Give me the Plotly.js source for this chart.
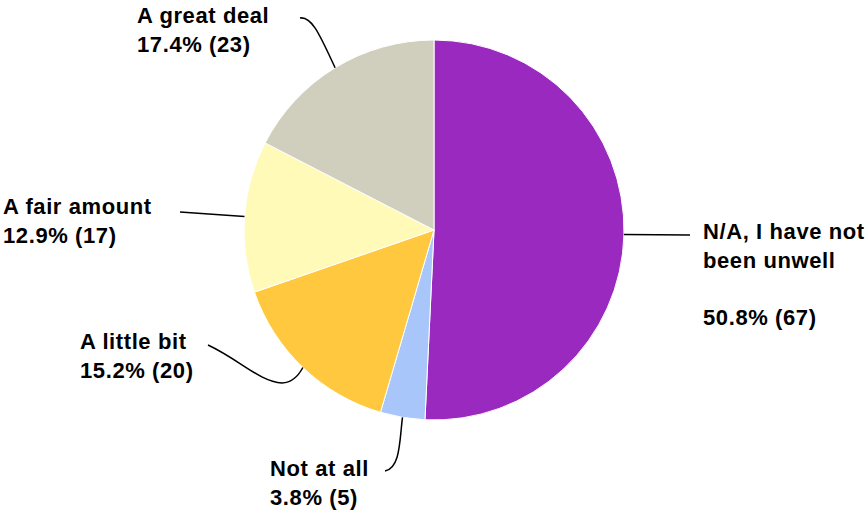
<!DOCTYPE html>
<html>
<head>
<meta charset="utf-8">
<script src="https://cdn.plot.ly/plotly-3.0.1.min.js"></script>
<style>
html,body{margin:0;padding:0;background:#fff;}
#chart{width:868px;height:513px;}
.annotation-text{letter-spacing:0.6px;}
</style>
</head>
<body>
<div id="chart"></div>
<script>
// Data
const categories = ["N/A, I have not been unwell", "Not at all", "A little bit", "A fair amount", "A great deal"];
const counts = [67, 5, 20, 17, 23];
const labelTexts = [
  "N/A, I have not<br>been unwell<br><br>50.8% (67)",
  "Not at all<br>3.8% (5)",
  "A little bit<br>15.2% (20)",
  "A fair amount<br>12.9% (17)",
  "A great deal<br>17.4% (23)"
];
const colors = ["#9A2ABF", "#A8C6FA", "#FFC83F", "#FFFAB8", "#D0CEBC"];

// Layout geometry (pixels)
const W = 868, H = 513;
const CX = 434, CY = 230, R = 190;
const px = x => x / W;
const py = y => 1 - y / H;

// Label placement (text box left/top, px) and leader-line end near label
const labelPos = [
  {x: 701, top: 217, lx: 690, ly: 235, curve: "line"},
  {x: 268, top: 454, lx: 385, ly: 471, curve: "notatall"},
  {x: 78,  top: 327, lx: 208, ly: 345, curve: "little"},
  {x: 1,   top: 192, lx: 180, ly: 212, curve: "line"},
  {x: 135, top: 1,   lx: 300, ly: 18,  curve: "great"}
];

const total = counts.reduce((a, b) => a + b, 0);
let cum = 0;
const shapes = [];
const annotations = [];
counts.forEach((v, i) => {
  const mid = (cum + v / 2) / total;
  cum += v;
  const ang = mid * 2 * Math.PI; // clockwise from top
  const ex = CX + R * Math.sin(ang);
  const ey = CY - R * Math.cos(ang);
  const p = labelPos[i];
  let path;
  const P = (x, y) => px(x) + "," + py(y);
  if (p.curve === "line") {
    path = "M" + P(ex, ey) + " L" + P(p.lx, p.ly);
  } else if (p.curve === "great") {
    path = "M" + P(p.lx, p.ly) + " C" + P(p.lx + 12, p.ly - 2) + " " + P(ex - 15, ey - 32) + " " + P(ex, ey);
  } else if (p.curve === "little") {
    path = "M" + P(p.lx, p.ly) + " C" + P(p.lx + 32, p.ly + 15) + " " + P(p.lx + 52, p.ly + 37) + " " + P(p.lx + 74, p.ly + 38) +
           " Q" + P(ex - 8, ey + 15) + " " + P(ex, ey);
  } else {
    path = "M" + P(ex, ey) + " C" + P(ex - 3, ey + 23) + " " + P(ex - 2, p.ly - 3) + " " + P(p.lx, p.ly);
  }
  shapes.push({type: "path", xref: "paper", yref: "paper", path: path, line: {color: "#000", width: 1.5}});
  annotations.push({
    xref: "paper", yref: "paper", x: px(p.x), y: py(p.top),
    xanchor: "left", yanchor: "top", align: "left", showarrow: false,
    text: "<b>" + labelTexts[i] + "</b>",
    font: {family: "Liberation Sans, Arial, sans-serif", size: 22, color: "#000"}
  });
});

const trace = {
  type: "pie",
  labels: categories,
  values: counts,
  sort: false,
  direction: "clockwise",
  rotation: 0,
  textinfo: "none",
  hoverinfo: "label+value+percent",
  marker: {colors: colors, line: {color: "#ffffff", width: 1}},
  domain: {x: [px(CX - R), px(CX + R)], y: [py(CY + R), py(CY - R)]},
  showlegend: false
};

const layout = {
  width: W, height: H,
  margin: {l: 0, r: 0, t: 0, b: 0},
  paper_bgcolor: "#fff",
  showlegend: false,
  shapes: shapes,
  annotations: annotations
};

Plotly.newPlot("chart", [trace], layout, {displayModeBar: false, staticPlot: true});
</script>
</body>
</html>
